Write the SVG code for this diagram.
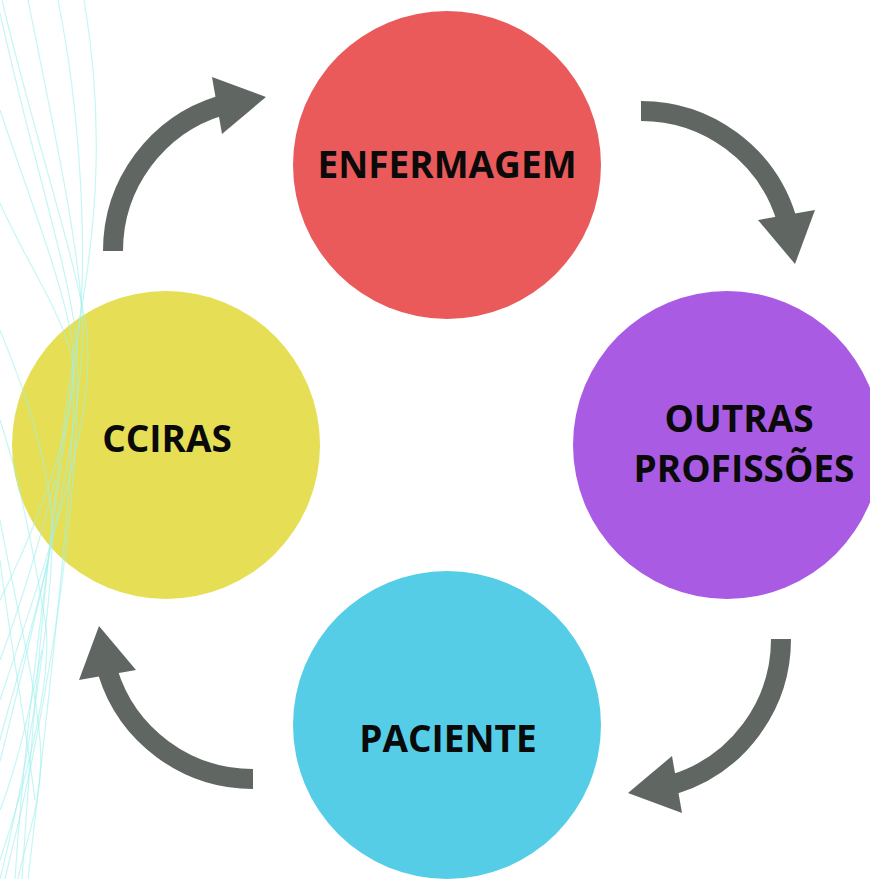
<svg xmlns="http://www.w3.org/2000/svg" width="870" height="879" viewBox="0 0 870 879">
<style>
.lbl{font-family:"Open Sans","Liberation Sans",sans-serif;font-weight:bold;font-size:37px;fill:#0a0a0a;text-anchor:middle}
.bg{fill:none;stroke:#9ff0ee;stroke-width:1.2;stroke-opacity:0.6}
.arc{fill:none;stroke:#606762;stroke-width:20}
.head{fill:#606762}
</style>
<defs>
<g id="arrow">
<path class="arc" d="M 113 251 A 152 152 0 0 1 220.6 105.6"/>
<polygon class="head" points="212,77 266,97 222,134"/>
</g>
</defs>
<rect width="870" height="879" fill="#ffffff"/>
<g id="node-enfermagem">
<circle cx="447" cy="165" r="154" fill="#ea5a5a"/>
<text class="lbl" x="447" y="178">ENFERMAGEM</text>
</g>
<g id="node-outras">
<circle cx="727" cy="445" r="154" fill="#a95be4"/>
<text class="lbl" x="739" y="432">OUTRAS</text>
<text class="lbl" x="744" y="482">PROFISSÕES</text>
</g>
<g id="node-paciente">
<circle cx="447" cy="725" r="154" fill="#56cde7"/>
<text class="lbl" x="448" y="752">PACIENTE</text>
</g>
<g id="node-cciras">
<circle cx="166" cy="445" r="154" fill="#e6df55"/>
<text class="lbl" x="167" y="452">CCIRAS</text>
</g>
<g id="connectors">
<use href="#arrow"/>
<use href="#arrow" transform="rotate(90 447 445)"/>
<use href="#arrow" transform="rotate(180 447 445)"/>
<use href="#arrow" transform="rotate(270 447 445)"/>
</g>
<g id="background-lines">
<path class="bg" d="M 84 0 C 108 140 92 250 78 330 S 40 600 22 879"/>
<path class="bg" d="M 58 0 C 82 120 86 250 80 320 S 30 650 15 879"/>
<path class="bg" d="M 28 0 C 52 120 76 230 82 310 S 52 560 -10 800"/>
<path class="bg" d="M 2 0 C 30 120 70 240 85 320 S 60 520 0 700"/>
<path class="bg" d="M 0 13 C 30 150 66 260 75 330 S 70 620 5 879"/>
<path class="bg" d="M 0 110 C 30 200 62 280 72 340 S 55 650 28 879"/>
<path class="bg" d="M 0 203 C 25 260 55 300 70 350 S 40 520 0 600"/>
<path class="bg" d="M 0 330 C 20 380 40 430 50 500 S 30 760 0 879"/>
<path class="bg" d="M 0 420 C 20 480 35 560 45 620 S 20 800 0 860"/>
<path class="bg" d="M 0 520 C 15 600 35 680 40 740 S 25 840 18 879"/>
<path class="bg" d="M 55 480 C 35 560 15 620 0 660"/>
<path class="bg" d="M 48 560 C 30 640 10 700 0 740"/>
<path class="bg" d="M 42 650 C 28 720 12 780 0 810"/>
<path class="bg" d="M 0 560 C 10 640 25 720 35 800"/>
</g>
</svg>
